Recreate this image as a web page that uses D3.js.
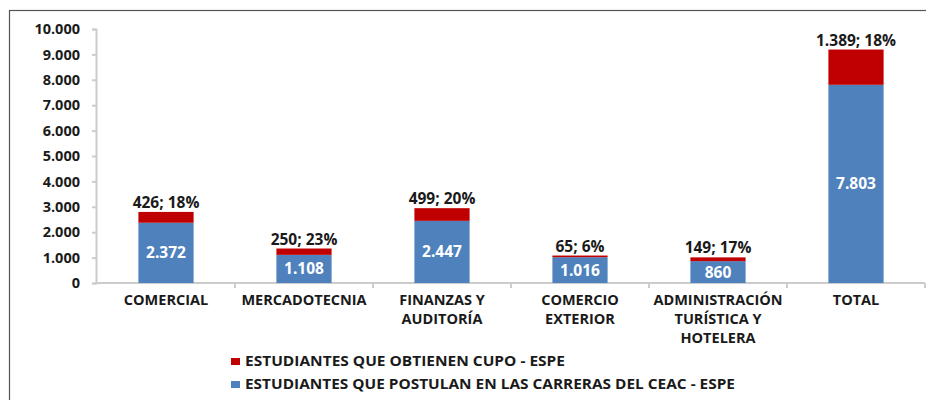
<!DOCTYPE html>
<html>
<head>
<meta charset="utf-8">
<script src="https://cdn.jsdelivr.net/npm/d3@7"></script>
<style>
body { margin: 0; background: #fff; }
svg text { font-family: "Open Sans", "Noto Sans", sans-serif; font-weight: bold; fill: #1a1a1a; }
</style>
</head>
<body>
<svg id="chart" width="926" height="400"></svg>
<script>
var categories = [["COMERCIAL"], ["MERCADOTECNIA"], ["FINANZAS Y", "AUDITORÍA"], ["COMERCIO", "EXTERIOR"], ["ADMINISTRACIÓN", "TURÍSTICA Y", "HOTELERA"], ["TOTAL"]];
var postulan = [2372, 1108, 2447, 1016, 860, 7803];
var cupo = [426, 250, 499, 65, 149, 1389];
var cupoPct = ["18%", "23%", "20%", "6%", "17%", "18%"];
var yTicks = [0, 1000, 2000, 3000, 4000, 5000, 6000, 7000, 8000, 9000, 10000];
var legendNames = ["ESTUDIANTES QUE OBTIENEN CUPO - ESPE", "ESTUDIANTES QUE POSTULAN EN LAS CARRERAS DEL CEAC - ESPE"];

var blue = "#4f81bd", red = "#c00000";
var fmt = function (v) { return d3.format(",")(v).replace(/,/g, "."); };

var svg = d3.select("#chart");

// frame
svg.append("rect").attr("x", 9.5).attr("y", 10.5).attr("width", 930).attr("height", 400)
    .attr("fill", "none").attr("stroke", "#555").attr("stroke-width", 1.2);

var x = d3.scaleBand().domain(d3.range(categories.length)).range([97, 925]).paddingInner(0.6).paddingOuter(0.3);
var xb = d3.scaleBand().domain(d3.range(categories.length)).range([97, 925]);
var y = d3.scaleLinear().domain([0, 10000]).range([283, 29]);

// y axis
var yAxis = svg.append("g").attr("transform", "translate(96,0)")
    .call(d3.axisLeft(y).tickValues(yTicks).tickSize(4).tickFormat(fmt));
yAxis.select(".domain").attr("stroke", "#ccc").attr("stroke-width", 2);
yAxis.selectAll(".tick line").attr("stroke", "#ccc").attr("stroke-width", 2);
yAxis.selectAll("text").attr("font-size", 14.5).attr("x", -16).attr("fill", "#1a1a1a");

// x axis line + ticks at band boundaries
svg.append("line").attr("x1", 96).attr("x2", 925).attr("y1", 283).attr("y2", 283)
    .attr("stroke", "#ccc").attr("stroke-width", 2);
svg.selectAll(".xtick").data(d3.range(1, categories.length + 1)).enter().append("line")
    .attr("x1", function (d) { return xb.step() * d + 97; }).attr("x2", function (d) { return xb.step() * d + 97; })
    .attr("y1", 283).attr("y2", 288).attr("stroke", "#ccc").attr("stroke-width", 2);

// bars
svg.selectAll(".blue").data(postulan).enter().append("rect")
    .attr("x", function (d, i) { return x(i); }).attr("width", x.bandwidth())
    .attr("y", function (d) { return y(d); }).attr("height", function (d) { return y(0) - y(d); })
    .attr("fill", blue);
svg.selectAll(".red").data(cupo).enter().append("rect")
    .attr("x", function (d, i) { return x(i); }).attr("width", x.bandwidth())
    .attr("y", function (d, i) { return y(postulan[i] + d); }).attr("height", function (d) { return y(0) - y(d); })
    .attr("fill", red);

// labels
svg.selectAll(".vl").data(postulan).enter().append("text")
    .attr("x", function (d, i) { return x(i) + x.bandwidth() / 2; })
    .attr("y", function (d) { return (y(0) + y(d)) / 2; }).attr("dy", "0.35em")
    .attr("text-anchor", "middle").attr("font-size", 15.5).style("fill", "#fff")
    .text(fmt);
svg.selectAll(".cl").data(cupo).enter().append("text")
    .attr("x", function (d, i) { return x(i) + x.bandwidth() / 2; })
    .attr("y", function (d, i) { return y(postulan[i] + d) - 4; })
    .attr("text-anchor", "middle").attr("font-size", 15.5)
    .text(function (d, i) { return fmt(d) + "; " + cupoPct[i]; });

// category labels
var cat = svg.selectAll(".cat").data(categories).enter().append("text")
    .attr("text-anchor", "middle").attr("font-size", 14.5)
    .attr("transform", function (d, i) { return "translate(" + (x(i) + x.bandwidth() / 2) + ",305)"; });
cat.selectAll("tspan").data(function (d) { return d; }).enter().append("tspan")
    .attr("x", 0).attr("y", function (d, j) { return j * 19; }).text(function (d) { return d; });

// legend
var leg = svg.selectAll(".leg").data(legendNames).enter().append("g")
    .attr("transform", function (d, i) { return "translate(231," + (361 + i * 23) + ")"; });
leg.append("rect").attr("x", 0).attr("y", -3).attr("width", 9).attr("height", 7)
    .attr("fill", function (d, i) { return i === 0 ? red : blue; });
leg.append("text").attr("x", 14).attr("dy", "0.35em").attr("font-size", 14)
    .attr("textLength", function (d, i) { return i === 0 ? 320 : 490; }).attr("lengthAdjust", "spacingAndGlyphs")
    .text(function (d) { return d; });
</script>
</body>
</html>
